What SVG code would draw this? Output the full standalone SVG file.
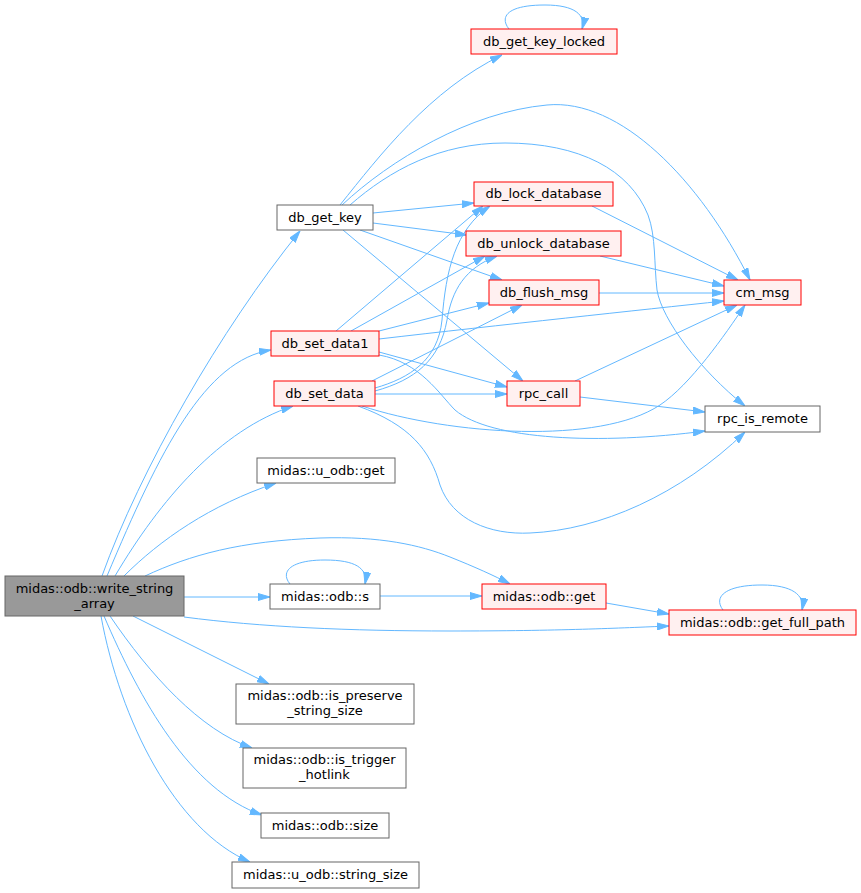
<svg xmlns="http://www.w3.org/2000/svg" width="861" height="893" viewBox="0 0 861 893">
<defs>
<style>
.n rect{stroke-width:1}
.w rect{fill:#ffffff;stroke:#666666}
.r rect{fill:#fff0f0;stroke:#ff0000}
.g rect{fill:#999999;stroke:#666666}
text{font-family:"DejaVu Sans","Liberation Sans",sans-serif;font-size:13px;fill:#000000;text-anchor:middle}
#edges path{fill:none;stroke:#63b8ff;stroke-width:1;marker-end:url(#ah)}
</style>
<marker id="ah" viewBox="0 0 12 8" refX="12" refY="4" markerWidth="12" markerHeight="8" markerUnits="userSpaceOnUse" orient="auto">
<path d="M0,0.5 L12,4 L0,7.5 z" fill="#63b8ff" stroke="#63b8ff" stroke-width="1"/>
</marker>
</defs>
<rect width="861" height="893" fill="#ffffff"/>
<g id="edges">
<!-- from write_string_array -->
<path d="M102,576 C140,470 220,330 300,231"/>
<path d="M107,576 C160,450 205,360 271,350"/>
<path d="M115,576 C160,500 220,430 293,406"/>
<path d="M124,576 C160,540 210,505 276,483"/>
<path d="M145,576 C190,555 240,541 320,538 C380,536 420,545 450,557 C475,567 495,576 510,584"/>
<path d="M184,597 L270,597"/>
<path d="M184,617 C260,627 350,631 450,631 C560,631 620,628 669,626"/>
<path d="M133,616 L269,684"/>
<path d="M110,616 C150,675 200,730 252,748"/>
<path d="M104,616 C140,700 190,790 262,815"/>
<path d="M101,616 C120,720 175,830 250,862"/>
<!-- from db_get_key -->
<path d="M340,205 C380,155 430,90 502,55"/>
<path d="M342,205 C390,160 470,112 547,105 C620,98 700,180 750,280"/>
<path d="M350,205 C390,170 440,143 505,143 C580,143 630,170 648,215 C656,236 654,265 657,290 C662,320 700,370 745,406"/>
<path d="M373,213 L474,203"/>
<path d="M373,223 L467,235"/>
<path d="M360,230 L502,280"/>
<path d="M343,230 L523,381"/>
<!-- from db_set_data1 -->
<path d="M336,331 L483,206"/>
<path d="M351,331 L485,256"/>
<path d="M379,331 L489,303"/>
<path d="M379,339 C500,325 640,310 724,301"/>
<path d="M379,352 L507,387"/>
<path d="M379,355 C420,362 440,395 455,410 C490,440 600,445 705,431"/>
<!-- from db_set_data -->
<path d="M375,388 C410,378 438,360 442,320 C446,270 455,230 490,206"/>
<path d="M375,391 C415,380 440,360 447,320 C452,290 465,268 497,256"/>
<path d="M372,381 L522,305"/>
<path d="M375,394 L507,394"/>
<path d="M362,406 C450,435 600,445 660,405 C690,385 725,335 745,305"/>
<path d="M358,406 C410,425 430,450 440,485 C452,520 490,535 530,533 C600,530 680,495 745,432"/>
<!-- to cm_msg / rpc_is_remote -->
<path d="M592,206 L738,280"/>
<path d="M600,256 L724,286"/>
<path d="M599,293 L724,293"/>
<path d="M575,381 L737,305"/>
<path d="M580,397 L705,412"/>
<!-- self loops -->
<path d="M509,29 C500,18 505,5 545,5 C575,5 586,15 582,29"/>
<path d="M290,584 C280,572 290,560 325,560 C355,560 368,568 365,584"/>
<path d="M723,610 C713,597 725,585 762,585 C792,585 805,595 802,610"/>
<!-- odb chain -->
<path d="M380,596 L482,596"/>
<path d="M606,603 L669,614"/>
</g>
<g id="write_string_array" class="n g"><rect x="5" y="576" width="179" height="40"/><text x="94.5" y="593">midas::odb::write_string</text><text x="94.5" y="608">_array</text></g>
<g id="db_get_key" class="n w"><rect x="277" y="205" width="96" height="25"/><text x="325" y="222">db_get_key</text></g>
<g id="db_get_key_locked" class="n r"><rect x="471" y="29" width="146" height="25"/><text x="544" y="46">db_get_key_locked</text></g>
<g id="db_lock_database" class="n r"><rect x="474" y="182" width="139" height="24"/><text x="543.5" y="198">db_lock_database</text></g>
<g id="db_unlock_database" class="n r"><rect x="466" y="231" width="155" height="25"/><text x="543.5" y="248">db_unlock_database</text></g>
<g id="db_flush_msg" class="n r"><rect x="489" y="280" width="110" height="25"/><text x="544" y="297">db_flush_msg</text></g>
<g id="db_set_data1" class="n r"><rect x="271" y="331" width="108" height="25"/><text x="325" y="348">db_set_data1</text></g>
<g id="db_set_data" class="n r"><rect x="274" y="381" width="101" height="25"/><text x="324.5" y="398">db_set_data</text></g>
<g id="rpc_call" class="n r"><rect x="507" y="381" width="73" height="25"/><text x="543.5" y="398">rpc_call</text></g>
<g id="cm_msg" class="n r"><rect x="724" y="280" width="77" height="25"/><text x="762.5" y="297">cm_msg</text></g>
<g id="rpc_is_remote" class="n w"><rect x="705" y="406" width="115" height="26"/><text x="762.5" y="423">rpc_is_remote</text></g>
<g id="u_odb_get" class="n w"><rect x="257" y="458" width="138" height="25"/><text x="326" y="475">midas::u_odb::get</text></g>
<g id="odb_s" class="n w"><rect x="270" y="584" width="110" height="25"/><text x="325" y="601">midas::odb::s</text></g>
<g id="odb_get" class="n r"><rect x="482" y="584" width="124" height="25"/><text x="544" y="601">midas::odb::get</text></g>
<g id="get_full_path" class="n r"><rect x="669" y="610" width="187" height="25"/><text x="762.5" y="627">midas::odb::get_full_path</text></g>
<g id="is_preserve_string_size" class="n w"><rect x="236" y="684" width="178" height="40"/><text x="325" y="700">midas::odb::is_preserve</text><text x="325" y="715">_string_size</text></g>
<g id="is_trigger_hotlink" class="n w"><rect x="243" y="748" width="163" height="40"/><text x="324.5" y="764">midas::odb::is_trigger</text><text x="324.5" y="779">_hotlink</text></g>
<g id="odb_size" class="n w"><rect x="261" y="813" width="128" height="25"/><text x="325" y="830">midas::odb::size</text></g>
<g id="u_odb_string_size" class="n w"><rect x="232" y="862" width="187" height="26"/><text x="325.5" y="879">midas::u_odb::string_size</text></g>
</svg>
